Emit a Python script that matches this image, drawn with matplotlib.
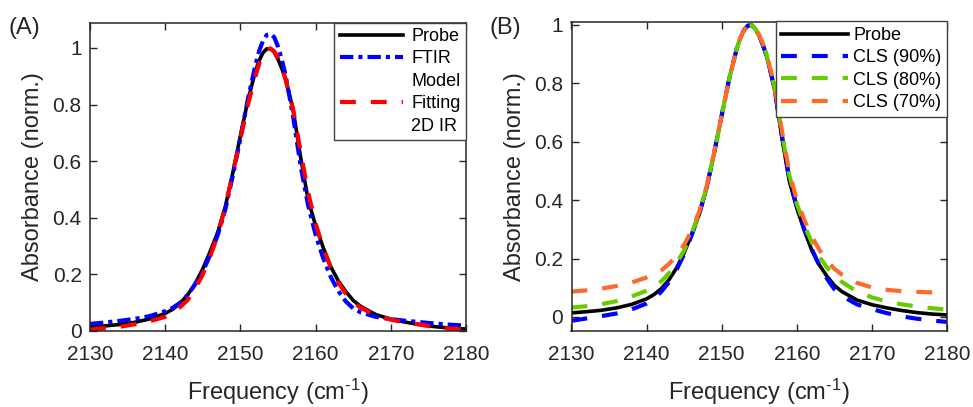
import matplotlib
matplotlib.use("Agg")
import matplotlib.pyplot as plt
from matplotlib.lines import Line2D
from matplotlib.ticker import FuncFormatter

plt.rcParams['font.family'] = ['Liberation Sans', 'DejaVu Sans']
plt.rcParams['mathtext.default'] = 'regular'

# ---------------- data (shared frequency grid, cm^-1) ----------------
freq = [2130, 2132, 2134, 2136, 2138, 2140, 2141, 2142, 2143, 2144, 2145, 2146,
        2147, 2148, 2149, 2150, 2151, 2152, 2152.5, 2153, 2153.5, 2154, 2154.5, 2155,
        2155.5, 2156, 2157, 2158, 2159, 2160, 2161, 2162, 2163, 2164, 2165, 2166,
        2168, 2170, 2172, 2174, 2176, 2178, 2180]

probe = [0.014, 0.018, 0.023, 0.031, 0.043, 0.062, 0.077, 0.098, 0.128, 0.168, 0.22, 0.282,
         0.35, 0.44, 0.56, 0.69, 0.815, 0.918, 0.956, 0.983, 0.997, 0.998, 0.985, 0.96,
         0.928, 0.89, 0.783, 0.615, 0.465, 0.372, 0.296, 0.228, 0.178, 0.14, 0.108, 0.087,
         0.058, 0.042, 0.031, 0.022, 0.015, 0.01, 0.007]

# panel A
ftir_model = [0.025, 0.03, 0.036, 0.043, 0.053, 0.07, 0.082, 0.1, 0.128, 0.165, 0.21, 0.27,
              0.34, 0.43, 0.55, 0.68, 0.82, 0.94, 0.99, 1.025, 1.046, 1.05, 1.038, 1.005,
              0.96, 0.905, 0.76, 0.585, 0.445, 0.34, 0.258, 0.192, 0.142, 0.105, 0.08, 0.066,
              0.05, 0.042, 0.036, 0.031, 0.026, 0.022, 0.019]
fit_2dir = [0.005, 0.01, 0.015, 0.024, 0.035, 0.05, 0.065, 0.085, 0.11, 0.15, 0.2, 0.265,
            0.34, 0.44, 0.56, 0.68, 0.8, 0.9, 0.945, 0.975, 0.994, 0.998, 0.988, 0.965,
            0.932, 0.89, 0.785, 0.635, 0.49, 0.38, 0.295, 0.225, 0.172, 0.132, 0.102, 0.082,
            0.056, 0.04, 0.03, 0.022, 0.013, 0.008, 0.005]

# panel B
cls90 = [-0.013, -0.005, 0.003, 0.012, 0.026, 0.046, 0.062, 0.088, 0.12, 0.162, 0.215, 0.28,
         0.352, 0.445, 0.562, 0.69, 0.815, 0.918, 0.956, 0.983, 0.997, 0.998, 0.986, 0.962,
         0.93, 0.892, 0.787, 0.625, 0.475, 0.378, 0.3, 0.232, 0.176, 0.132, 0.095, 0.072,
         0.043, 0.027, 0.013, 0.002, -0.006, -0.012, -0.017]
cls80 = [0.032, 0.037, 0.044, 0.054, 0.07, 0.09, 0.104, 0.123, 0.15, 0.185, 0.228, 0.287,
         0.355, 0.445, 0.562, 0.69, 0.815, 0.918, 0.956, 0.983, 0.997, 0.998, 0.986, 0.963,
         0.932, 0.895, 0.79, 0.632, 0.485, 0.388, 0.315, 0.255, 0.207, 0.17, 0.142, 0.12,
         0.087, 0.067, 0.053, 0.043, 0.036, 0.03, 0.025]
cls70 = [0.087, 0.091, 0.097, 0.106, 0.118, 0.135, 0.146, 0.16, 0.182, 0.21, 0.247, 0.296,
         0.36, 0.448, 0.564, 0.69, 0.815, 0.918, 0.956, 0.983, 0.997, 0.998, 0.987, 0.964,
         0.934, 0.897, 0.795, 0.64, 0.495, 0.4, 0.332, 0.275, 0.23, 0.193, 0.165, 0.145,
         0.117, 0.101, 0.093, 0.088, 0.086, 0.084, 0.082]

xticks = [2130, 2140, 2150, 2160, 2170, 2180]
yticks = [0, 0.2, 0.4, 0.6, 0.8, 1]

TXT = '#262626'
W, H = 973, 407
fig = plt.figure(figsize=(W / 100, H / 100), dpi=100)

axA = fig.add_axes([90 / W, 1 - 331 / H, (466 - 90) / W, (331 - 22.5) / H])
axB = fig.add_axes([571.5 / W, 1 - 331 / H, (947 - 571.5) / W, (331 - 21.5) / H])

fmt = FuncFormatter(lambda v, p: f"{v:g}")
XLAB = 'Frequency (cm$^{\u20101}$)'

def style(ax):
    for s in ax.spines.values():
        s.set_color(TXT)
        s.set_linewidth(1.1)
    ax.tick_params(direction='in', length=5, width=1, top=True, right=True,
                   labelsize=15, colors=TXT)
    ax.tick_params(axis='x', pad=10)
    ax.tick_params(axis='y', pad=6)
    ax.set_xticks(xticks)
    ax.set_yticks(yticks)
    ax.yaxis.set_major_formatter(fmt)
    ax.set_xlim(2130, 2180)
    ax.set_xlabel(XLAB, fontsize=17, color=TXT, labelpad=9)
    ax.set_ylabel('Absorbance (norm.)', fontsize=17, color=TXT, labelpad=6)

DASH = (3.8, 3.6)
DASHDOT = (3.2, 1.2, 1, 1.2)

# Panel A
axA.plot(freq, probe, color='black', lw=2.6)
axA.plot(freq, ftir_model, color='#0000ff', lw=3, dashes=DASHDOT)
axA.plot(freq, fit_2dir, color='#ff0000', lw=3, dashes=DASH)
axA.set_ylim(0, 1.09)
style(axA)

blank = Line2D([], [], color='none')
hA = [Line2D([], [], color='black', lw=2.6),
      Line2D([], [], color='#0000ff', lw=3, dashes=DASHDOT),
      blank,
      Line2D([], [], color='#ff0000', lw=3, dashes=DASH),
      blank]
lA = ['Probe', 'FTIR', 'Model', 'Fitting', '2D IR']
legA = axA.legend(hA, lA, loc='upper right', borderaxespad=0, fontsize=13,
                  handlelength=3.5, handletextpad=0.45, labelspacing=0.3,
                  borderpad=0.3, fancybox=False, framealpha=1, edgecolor='#404040')
legA.get_frame().set_linewidth(1.0)

# Panel B
axB.plot(freq, probe, color='black', lw=2.6)
axB.plot(freq, cls90, color='#0000ff', lw=3, dashes=DASH)
axB.plot(freq, cls80, color='#66cc00', lw=3, dashes=DASH)
axB.plot(freq, cls70, color='#ff6a2a', lw=3, dashes=DASH)
axB.set_ylim(-0.048, 1.011)
style(axB)
legB = axB.legend(['Probe', 'CLS (90%)', 'CLS (80%)', 'CLS (70%)'], loc='upper right',
                  borderaxespad=0, fontsize=13, handlelength=3.7, handletextpad=0.3,
                  labelspacing=0.3, borderpad=0.3, fancybox=False, framealpha=1,
                  edgecolor='#404040')
legB.get_frame().set_linewidth(1.0)

fig.text(8 / W, 1 - 28 / H, '(A)', fontsize=17, color=TXT, va='center', ha='left')
fig.text(489 / W, 1 - 28 / H, '(B)', fontsize=17, color=TXT, va='center', ha='left')

fig.savefig('out.png', dpi=100)
